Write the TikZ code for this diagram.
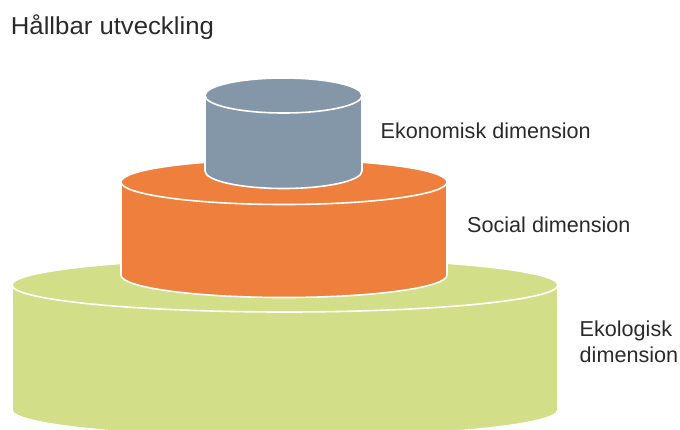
\documentclass[tikz,border=0pt]{standalone}
\usepackage{fontspec}
\setmainfont{Liberation Sans}
\definecolor{ekogray}{HTML}{8497A8}
\definecolor{socorange}{HTML}{EE7F3C}
\definecolor{ekolgreen}{HTML}{D2DE88}
\definecolor{labeltext}{HTML}{2A2A2A}

\begin{document}
\begin{tikzpicture}[x=1pt,y=1pt,
    drum/.style={draw=white,line width=1.6pt,line join=round},
    dimtext/.style={anchor=base west,inner sep=0pt,text=labeltext,font=\fontsize{21.6}{26}\selectfont}]
  \useasboundingbox (0,0) rectangle (680,-429);
  \clip (0,0) rectangle (680,-429);

  % ekologisk
  \draw [drum,fill=ekolgreen] (12,-285) -- (12,-410) arc (180:360:273 and 27)
    -- (558,-285) arc (0:180:273 and 27) -- cycle;
  \draw [drum] (12,-285) arc (180:360:273 and 27);

  % social
  \draw [drum,fill=socorange] (121,-182) -- (121,-275) arc (180:360:163 and 22.5)
    -- (447,-182) arc (0:180:163 and 22.5) -- cycle;
  \draw [drum] (121,-182) arc (180:360:163 and 22.5);

  % ekonomisk
  \draw [drum,fill=ekogray] (205,-95.5) -- (205,-171) arc (180:360:78.5 and 17.5)
    -- (362,-95.5) arc (0:180:78.5 and 17.5) -- cycle;
  \draw [drum] (205,-95.5) arc (180:360:78.5 and 17.5);

  \node [dimtext,font=\fontsize{24.5}{29}\selectfont,xscale=1.05] (title) at (10.7,-34) {Hållbar utveckling};
  \node [dimtext] (ekonomisk) at (380.5,-138) {Ekonomisk dimension};
  \node [dimtext] (social) at (467,-232) {Social dimension};
  \node [dimtext,align=left,anchor=north west] (ekologisk) at (579.5,-321) {Ekologisk\\dimension};
\end{tikzpicture}
\end{document}
